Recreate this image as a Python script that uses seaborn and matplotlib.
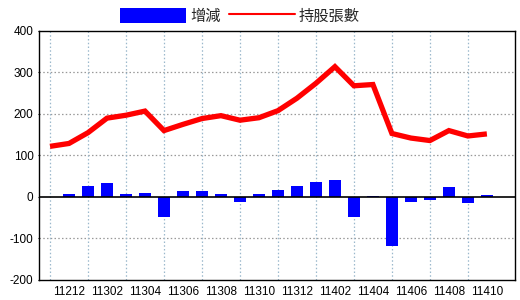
import numpy as np
import pandas as pd
import matplotlib
matplotlib.use("Agg")
import matplotlib.pyplot as plt
import seaborn as sns
from matplotlib.patches import Patch
from matplotlib.lines import Line2D

months = ["11211", "11212", "11301", "11302", "11303", "11304", "11305", "11306",
          "11307", "11308", "11309", "11310", "11311", "11312", "11401", "11402",
          "11403", "11404", "11405", "11406", "11407", "11408", "11409", "11410"]
change = [0, 7, 26, 34, 7, 10, -48, 15, 14, 7, -12, 7, 17, 27, 36, 41,
          -48, 3, -118, -12, -7, 24, -14, 5]
holders = [122, 129, 155, 190, 197, 207, 160, 175, 189, 196, 185, 191, 208,
           238, 274, 314, 268, 271, 153, 142, 136, 160, 147, 152]
y_ticks = [-200, -100, 0, 100, 200, 300, 400]

sns.set_theme(style="white")
plt.rcParams["font.family"] = ["Liberation Sans", "Noto Sans CJK TC", "DejaVu Sans"]

df = pd.DataFrame({"idx": np.arange(len(months)), "month": months,
                   "change": change, "holders": holders})

fig = plt.figure(figsize=(5.2, 3.0), dpi=100)
ax = fig.add_axes([0.075, 0.0667, 0.915, 0.83])

sns.barplot(data=df, x="idx", y="change", native_scale=True, color="#0000ff",
            saturation=1, width=0.65, linewidth=0, ax=ax, zorder=3)
sns.lineplot(data=df, x="idx", y="holders", color="#ff0000", linewidth=3.8,
             ax=ax, zorder=4, solid_capstyle="butt", solid_joinstyle="miter")

ax.set_xlim(-0.58, 24.47)
ax.set_ylim(-200, 400)
ax.set_yticks(y_ticks)
ax.set_yticklabels([str(v) for v in y_ticks], fontsize=8.5)
ax.set_xticks(df["idx"][1::2])
ax.set_xticklabels(df["month"][1::2], fontsize=8.5)
ax.set_xlabel("")
ax.set_ylabel("")

# grid lines
for v in [100, 200, 300, -100]:
    ax.axhline(v, color="#999999", linestyle=(0, (1.2, 1.8)), linewidth=0.9, zorder=1)
for i in df["idx"][0::2]:
    ax.axvline(i, color="#9bb8cc", linestyle=(0, (1.2, 1.8)), linewidth=0.9, zorder=1)
ax.axhline(0, color="black", linewidth=1.2, zorder=5)

for s in ax.spines.values():
    s.set_color("black")
    s.set_linewidth(1.0)
ax.tick_params(axis="y", length=1, width=0.8, pad=3, colors="black", left=True)
ax.tick_params(axis="x", length=0, pad=4, colors="black")

handles = [Patch(facecolor="#0000ff", edgecolor="none", label="增減"),
           Line2D([0], [0], color="#ff0000", linewidth=1.5, label="持股張數")]
fig.legend(handles=handles, loc="center", bbox_to_anchor=(0.462, 0.947), ncol=2,
           frameon=False, fontsize=11, handlelength=4.3, handleheight=1.1,
           handletextpad=0.3, columnspacing=0.5, borderpad=0)

fig.savefig("out.png", dpi=100, facecolor="white")
